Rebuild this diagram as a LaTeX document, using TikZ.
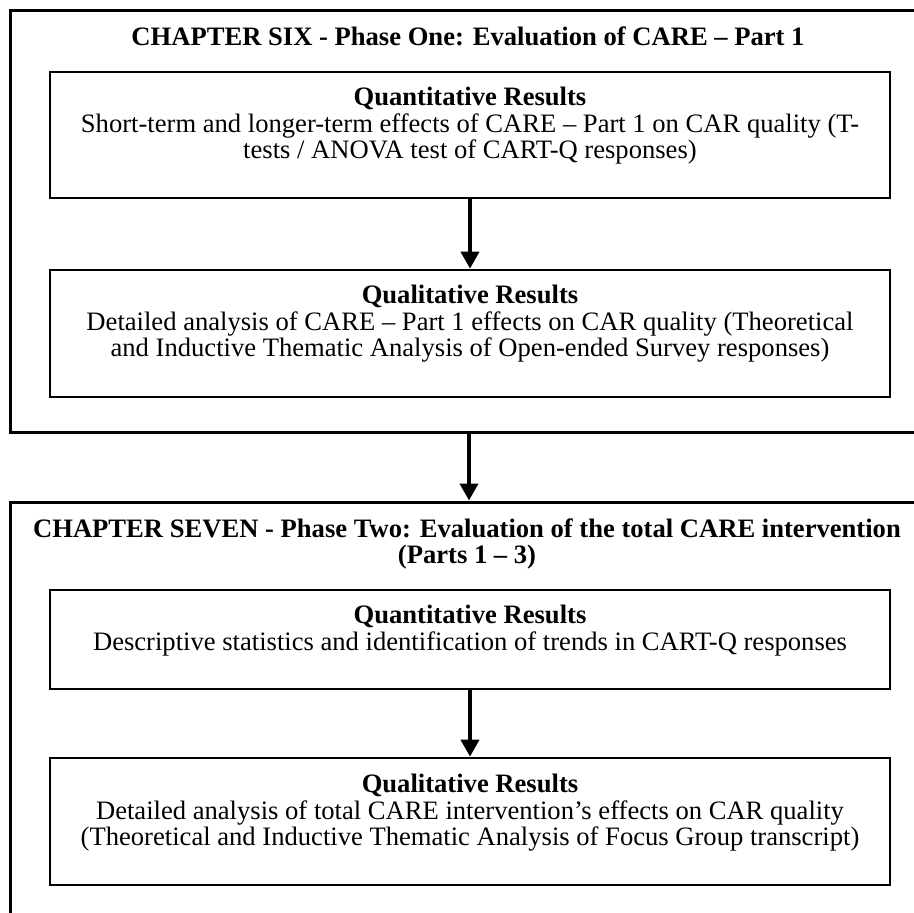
\documentclass[tikz,border=0pt]{standalone}
\usepackage{fontspec}
\setmainfont{Liberation Serif}
\usetikzlibrary{arrows.meta}
\begin{document}
\begin{tikzpicture}[x=1pt,y=-1pt,
  chapterframe/.style={draw, line width=3pt, rectangle, inner sep=0pt},
  resultbox/.style={draw, line width=2.7pt, rectangle, minimum width=840pt, inner sep=0pt},
  boxtext/.style={align=center, anchor=north, inner sep=0pt,
    font=\fontsize{26.6}{26.8}\selectfont},
  heading/.style={font=\fontsize{26.6}{26.5}\selectfont\bfseries, anchor=base, inner sep=0pt},
  flow/.style={line width=4pt, -{Triangle[width=18pt,length=17pt]}},
]
\useasboundingbox (0,0) rectangle (914,913);

% chapter frames (run past the page edge on the right and at the bottom)
\begin{scope}
  \clip (0,0) rectangle (914,913);
  \node[chapterframe, minimum width=918pt, minimum height=422pt] (six) at (469,221) {};
  \node[chapterframe, minimum width=918pt, minimum height=480pt] (seven) at (469,742) {};
\end{scope}

% chapter six
\node[heading] (sixtitle) at (468,45) {CHAPTER SIX - Phase One: Evaluation of CARE – Part 1};
\node[resultbox, minimum height=126pt] (q1) at (470,135) {};
\node[boxtext] (q1text) at ([yshift=-16pt]q1.north)
  {\textbf{Quantitative Results}\\Short-term and longer-term effects of CARE – Part 1 on CAR quality (T-\\tests / ANOVA test of CART-Q responses)};
\node[resultbox, minimum height=127pt] (q2) at (470,333.5) {};
\node[boxtext] (q2text) at ([yshift=-16pt]q2.north)
  {\textbf{Qualitative Results}\\Detailed analysis of CARE – Part 1 effects on CAR quality (Theoretical\\and Inductive Thematic Analysis of Open-ended Survey responses)};

% chapter seven
\node[heading] (seventitle) at (467,537) {CHAPTER SEVEN - Phase Two: Evaluation of the total CARE intervention};
\node[heading] (seventitleb) at (467,563) {(Parts 1 – 3)};
\node[resultbox, minimum height=99pt] (q3) at (470,639.5) {};
\node[boxtext] (q3text) at ([yshift=-16pt]q3.north)
  {\textbf{Quantitative Results}\\Descriptive statistics and identification of trends in CART-Q responses};
\node[resultbox, minimum height=127pt] (q4) at (470,821.5) {};
\node[boxtext] (q4text) at ([yshift=-17pt]q4.north)
  {\textbf{Qualitative Results}\\Detailed analysis of total CARE intervention’s effects on CAR quality\\(Theoretical and Inductive Thematic Analysis of Focus Group transcript)};

% flow arrows
\draw[flow] (q1) -- (q2);
\draw[flow] (six.south) -- (seven.north);
\draw[flow] (q3) -- (q4);
\end{tikzpicture}
\end{document}
